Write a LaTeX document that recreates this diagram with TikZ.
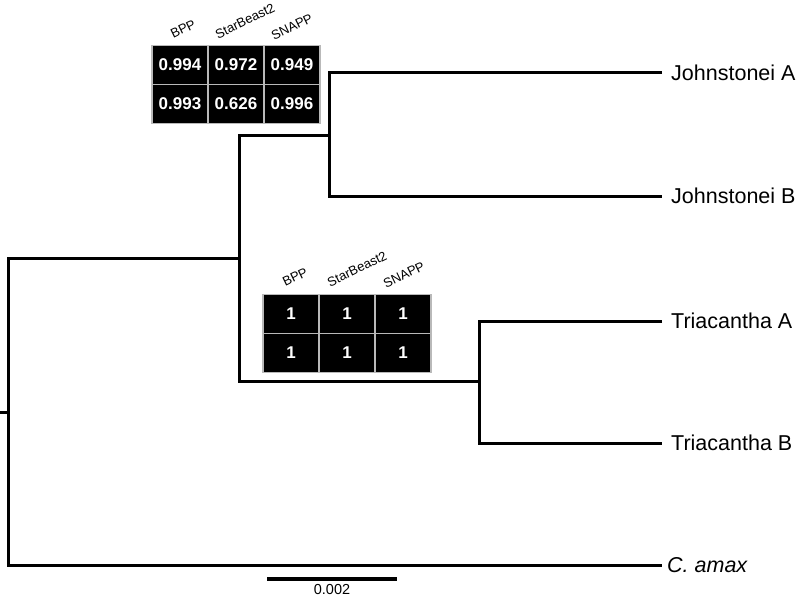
\documentclass[tikz,border=0pt]{standalone}
\usepackage{fontspec}
\setmainfont{Liberation Sans}
\tikzset{
  branch/.style={line width=3pt, line join=miter},
  tip/.style={anchor=west, inner xsep=9pt, inner ysep=0pt, font=\fontsize{21.5}{24}\selectfont},
  cell/.style={fill=black, draw=gray!55, line width=1.4pt, minimum width=56pt, minimum height=39pt,
    inner sep=0pt, text=white, font=\bfseries\fontsize{17}{19}\selectfont},
  head/.style={rotate=26, inner sep=0pt, font=\fontsize{13}{14}\selectfont}
}
\begin{document}
\begin{tikzpicture}[x=1pt,y=-1pt]
            \useasboundingbox (0,0) rectangle (797,596);

            % tips
            \node[tip] (ja) at (662,73) {Johnstonei A};
            \node[tip] (jb) at (662,196) {Johnstonei B};
            \node[tip] (ta) at (662,321) {Triacantha A};
            \node[tip] (tb) at (662,443) {Triacantha B};
            \node[tip, inner xsep=5pt, font=\itshape\fontsize{21.5}{24}\selectfont] (ca) at (662,565) {C. amax};

            % inner nodes
            \coordinate (base) at (0,412);
            \coordinate (root) at (8,412);
            \coordinate (jt) at (239,258);
            \coordinate (jn) at (329,136);
            \coordinate (tn) at (479,381);

            \draw[branch] (base) -- (root);
            \draw[branch] (jt) -| (root) |- (ca.west);
            \draw[branch] (jn) -| (jt) |- (tn);
            \draw[branch] (ja.west) -| (jn) |- (jb.west);
            \draw[branch] (ta.west) -| (tn) |- (tb.west);

            % support, johnstonei
            \node[cell] (j11) at (180,65) {0.994};
            \node[cell] (j12) at (236,65) {0.972};
            \node[cell] (j13) at (292,65) {0.949};
            \node[cell] (j21) at (180,104) {0.993};
            \node[cell] (j22) at (236,104) {0.626};
            \node[cell] (j23) at (292,104) {0.996};
            \node[head] (jh1) at (183,29) {BPP};
            \node[head] (jh2) at (245,21) {StarBeast2};
            \node[head] (jh3) at (292,27) {SNAPP};

            % support, triacantha
            \node[cell] (t11) at (291,314) {1};
            \node[cell] (t12) at (347,314) {1};
            \node[cell] (t13) at (403,314) {1};
            \node[cell] (t21) at (291,353) {1};
            \node[cell] (t22) at (347,353) {1};
            \node[cell] (t23) at (403,353) {1};
            \node[head] (th1) at (295,277) {BPP};
            \node[head] (th2) at (357,269) {StarBeast2};
            \node[head] (th3) at (404,275) {SNAPP};

            % scale
            \coordinate (s1) at (267,579);
            \coordinate (s2) at (397,579);
            \draw[line width=3.5pt] (s1) -- (s2);
            \node[anchor=base, inner sep=0pt, font=\fontsize{14.5}{16}\selectfont] (scale) at (332,594) {0.002};
        \end{tikzpicture}
\end{document}
